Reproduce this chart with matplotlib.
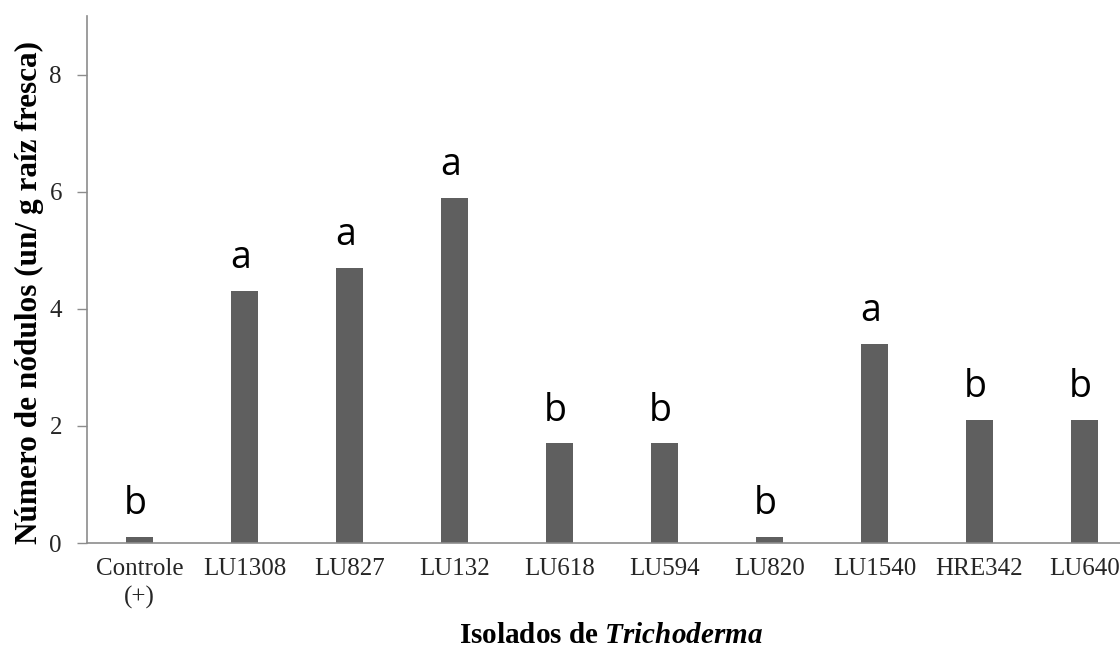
#!/usr/bin/env python3
"""Nodule count per Trichoderma isolate (bar chart with letter groups)."""

import matplotlib

matplotlib.use("Agg")
import matplotlib.pyplot as plt
import numpy as np

isolates = ["Controle\n(+)", "LU1308", "LU827", "LU132", "LU618",
            "LU594", "LU820", "LU1540", "HRE342", "LU640"]
nodules = [0.1, 4.3, 4.7, 5.9, 1.7, 1.7, 0.1, 3.4, 2.1, 2.1]
groups = ["b", "a", "a", "a", "b", "b", "b", "a", "b", "b"]
yticks = [0, 2, 4, 6, 8]

plt.rcParams["mathtext.fontset"] = "custom"
plt.rcParams["mathtext.bfit"] = "Liberation Serif:italic:bold"
plt.rcParams["mathtext.it"] = "Liberation Serif:italic"
plt.rcParams["mathtext.bf"] = "Liberation Serif:bold"
plt.rcParams["mathtext.rm"] = "Liberation Serif"

axis_col = "#8c8c8c"
bar_col = "#5f5f5f"

fig = plt.figure(figsize=(11.2, 6.48), dpi=100)
ax = fig.add_axes([87 / 1120, 1 - 543 / 648, 1050 / 1120, 527 / 648])

x = np.arange(len(isolates))
ax.bar(x, nodules, width=0.25, color=bar_col)

for xi, v, g in zip(x, nodules, groups):
    ax.annotate(g, (xi, v), xytext=(-3, 10), textcoords="offset points",
                ha="center", va="bottom", fontsize=27, family="Open Sans",
                color="#000000")

ax.set_xlim(-0.5, len(isolates) - 0.5)
ax.set_ylim(0, 9)
ax.set_yticks(yticks)
ax.set_xticks(x)
ax.set_xticklabels(isolates, family="Liberation Serif", fontsize=18,
                   color="#262626", linespacing=1.3)
ax.set_yticklabels([str(t) for t in yticks], family="Liberation Serif",
                   fontsize=18, color="#262626")
ax.tick_params(axis="x", length=0, pad=11)
ax.tick_params(axis="y", length=7, width=1, color=axis_col, pad=11)

for side in ["top", "right"]:
    ax.spines[side].set_visible(False)
for side in ["left", "bottom"]:
    ax.spines[side].set_color(axis_col)
    ax.spines[side].set_linewidth(1.2)

fig.text(29 / 1120, 1 - 293 / 648, "Número de nódulos (un/ g raíz fresca)",
         family="Liberation Serif", fontweight="bold", fontsize=22.5,
         rotation=90, ha="center", va="center")
fig.text(611 / 1120, 1 - 643 / 648, r"Isolados de $\mathbfit{Trichoderma}$",
         family="Liberation Serif", fontweight="bold", fontsize=21,
         ha="center", va="baseline")

fig.savefig("out.png", dpi=100)
